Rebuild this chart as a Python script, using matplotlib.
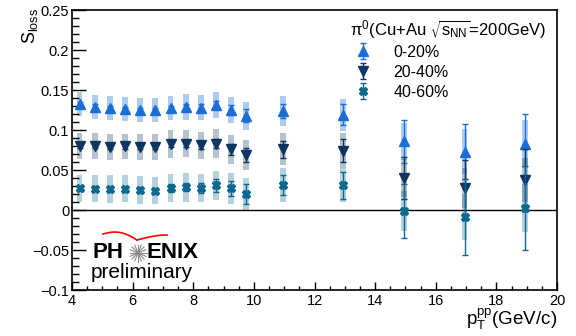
import numpy as np
import matplotlib
matplotlib.use('Agg')
from matplotlib import pyplot as plt
from matplotlib.ticker import MultipleLocator

plt.rcParams['font.family'] = 'Liberation Sans'
plt.rcParams['mathtext.default'] = 'regular'

# === data ===
pt = [4.25, 4.75, 5.25, 5.75, 6.25, 6.75, 7.25, 7.75, 8.25, 8.75, 9.25, 9.75,
      10.95, 12.95, 14.95, 16.95, 18.95]

s_0_20 = [0.132, 0.129, 0.1275, 0.126, 0.125, 0.1245, 0.127, 0.129, 0.128, 0.131, 0.125, 0.118,
          0.124, 0.119, 0.086, 0.073, 0.082]
stat_0_20 = [0.003, 0.003, 0.003, 0.003, 0.003, 0.003, 0.003, 0.004, 0.004, 0.005, 0.006, 0.008,
             0.009, 0.013, 0.027, 0.034, 0.038]
sys_0_20 = [0.015, 0.015, 0.015, 0.015, 0.015, 0.015, 0.015, 0.016, 0.016, 0.016, 0.016, 0.0175,
            0.019, 0.020, 0.023, 0.028, 0.030]

s_20_40 = [0.080, 0.080, 0.079, 0.0795, 0.079, 0.079, 0.0825, 0.083, 0.081, 0.083, 0.076, 0.069,
           0.076, 0.074, 0.040, 0.028, 0.0375]
stat_20_40 = [0.003, 0.003, 0.003, 0.003, 0.003, 0.003, 0.004, 0.004, 0.005, 0.006, 0.007, 0.009,
              0.0105, 0.0145, 0.026, 0.034, 0.039]
sys_20_40 = [0.016, 0.016, 0.016, 0.016, 0.016, 0.016, 0.017, 0.017, 0.017, 0.018, 0.018, 0.019,
             0.020, 0.022, 0.024, 0.025, 0.027]

s_40_60 = [0.027, 0.0266, 0.0262, 0.0266, 0.025, 0.024, 0.0275, 0.0283, 0.0275, 0.0308, 0.027, 0.020,
           0.031, 0.031, -0.001, -0.009, 0.0025]
stat_40_60 = [0.003, 0.003, 0.004, 0.004, 0.004, 0.004, 0.005, 0.005, 0.006, 0.0077, 0.009, 0.013,
              0.0123, 0.017, 0.034, 0.0475, 0.0525]
sys_40_60 = [0.017, 0.017, 0.017, 0.017, 0.017, 0.017, 0.017, 0.018, 0.018, 0.018, 0.019, 0.020,
             0.021, 0.021, 0.025, 0.029, 0.030]

labels = ['0-20%', '20-40%', '40-60%']
colors = ['#1a6fd6', '#0d3562', '#0b6891']
markers = ['^', 'v', 'X']
msizes = [6.5, 6.5, 6.2]
box_alpha = [0.35, 0.3, 0.3]

fig = plt.figure(figsize=(5.76, 3.36), dpi=100)
ax = fig.add_axes([72 / 576, 1 - 290 / 336, 485 / 576, 280 / 336])

series = [(s_0_20, stat_0_20, sys_0_20),
          (s_20_40, stat_20_40, sys_20_40),
          (s_40_60, stat_40_60, sys_40_60)]

handles = []
for i, (s, st, sy) in enumerate(series):
    s = np.array(s)
    sy = np.array(sy)
    # systematic boxes
    ax.bar(pt, 2 * sy, bottom=s - sy, width=0.19, color=colors[i],
           alpha=box_alpha[i], linewidth=0, zorder=1)
    h = ax.errorbar(pt, s, yerr=st, fmt=markers[i], color=colors[i], ms=msizes[i],
                    elinewidth=1, capsize=2.5, capthick=1, zorder=3 + i)
    handles.append(h)

ax.axhline(0, color='black', lw=1, zorder=2)

ax.set_xlim(4, 20)
ax.set_ylim(-0.1, 0.25)
ax.xaxis.set_major_locator(MultipleLocator(2))
ax.xaxis.set_minor_locator(MultipleLocator(0.5))
ax.yaxis.set_minor_locator(MultipleLocator(0.01))
ax.set_yticks(np.arange(-0.1, 0.26, 0.05))
ax.set_yticklabels(['\u22120.1', '\u22120.05', '0', '0.05', '0.1', '0.15', '0.2', '0.25'])
ax.tick_params(axis='x', which='major', direction='in', length=5.8, width=1, labelsize=10.5, pad=3)
ax.tick_params(axis='x', which='minor', direction='in', length=2.9, width=1)
ax.tick_params(axis='y', which='major', direction='in', length=10, width=1, labelsize=10.5, pad=2)
ax.tick_params(axis='y', which='minor', direction='in', length=5, width=1)
for spine in ax.spines.values():
    spine.set_linewidth(1.2)

fig.text(30 / 576, 1 - 8 / 336, r'S$_{loss}$', rotation=90, ha='center', va='top', fontsize=13)
fig.text(557 / 576, 1 - 332 / 336, r'p$_{T}^{pp}$(GeV/c)', ha='right', va='bottom', fontsize=13.5)

# legend
ax.text(0.776, 0.929, r'$\pi^{0}$(Cu+Au $\sqrt{s_{NN}}$=200GeV)', transform=ax.transAxes,
        ha='center', va='center', fontsize=12)
ax.legend(handles, labels, loc='upper left', bbox_to_anchor=(0.58, 0.876), frameon=False,
          fontsize=11.5, handlelength=1.2, handletextpad=1.3, labelspacing=0.32,
          borderpad=0, borderaxespad=0)

# PHENIX preliminary logo
def ax_pt(px, py):
    return (px - 72) / 485, (290 - py) / 280

x0, y0 = ax_pt(92, 253)
ax.text(x0, y0, 'PH', transform=ax.transAxes, fontsize=16, fontweight='bold',
        ha='left', va='center')
x1, y1 = ax_pt(147, 253)
ax.text(x1, y1, 'ENIX', transform=ax.transAxes, fontsize=16, fontweight='bold',
        ha='left', va='center')
x2, y2 = ax_pt(91, 273)
ax.text(x2, y2, 'preliminary', transform=ax.transAxes, fontsize=15,
        ha='left', va='center')
cx, cy = 138, 253
for a in np.linspace(0, np.pi, 8, endpoint=False):
    p1 = ax_pt(cx - 8.5 * np.cos(a), cy - 8.5 * np.sin(a))
    p2 = ax_pt(cx + 8.5 * np.cos(a), cy + 8.5 * np.sin(a))
    ax.plot([p1[0], p2[0]], [p1[1], p2[1]], color='#888888', lw=0.8,
            transform=ax.transAxes, clip_on=False, zorder=6)
t = np.linspace(0, 1, 30)
lx = 103 + (137 - 103) * t
ly = 234 - 3 * np.sin(np.pi * t) + 6 * t ** 2
rx = 137 + (167 - 137) * t
ry = 240 - 5 * np.sin(np.pi * t / 2)
wing_l = np.array([ax_pt(a, b) for a, b in zip(lx, ly)])
wing_r = np.array([ax_pt(a, b) for a, b in zip(rx, ry)])
ax.plot(wing_l[:, 0], wing_l[:, 1], color='red', lw=1.2, transform=ax.transAxes, zorder=6)
ax.plot(wing_r[:, 0], wing_r[:, 1], color='red', lw=1.2, transform=ax.transAxes, zorder=6)

plt.savefig('out.png', dpi=100)
